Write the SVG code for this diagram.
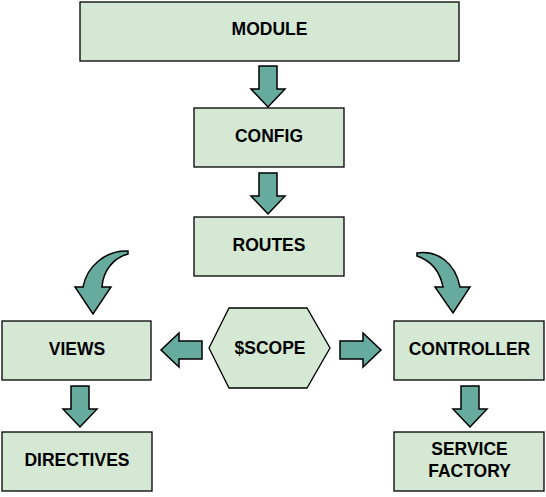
<svg xmlns="http://www.w3.org/2000/svg" width="546" height="497" viewBox="0 0 546 497">
<style>
.box{fill:#d5e8d4;stroke:#000;stroke-width:1.3}
.arr{fill:#67ab9f;stroke:#000;stroke-width:1.5;stroke-linejoin:miter}
.lbl{font-family:"Liberation Sans",Arial,sans-serif;font-weight:bold;font-size:17.5px;fill:#000;text-anchor:middle}
</style>
<rect width="546" height="497" fill="#fff"/>
<g id="connectors">
<path class="arr" d="M259,66 H277 V89 H285 L268,107 L251,89 H259 Z"/>
<path class="arr" d="M259,173 H277 V196 H285 L268,214 L251,196 H259 Z"/>
<path class="arr" d="M71,386 H89 V409 H97 L80,427 L63,409 H71 Z"/>
<path class="arr" d="M461,386 H479 V409 H487 L470,427 L453,409 H461 Z"/>
<path class="arr" d="M202,341 V359 H179 V367 L161,350 L179,333 V341 Z"/>
<path class="arr" d="M340,341 V359 H363 V367 L381,350 L363,333 V341 Z"/>
<path class="arr" d="M128,251 C106,250 87,266 83,287 L75,287 L93,314 L111,287 L102,287 C103,271 113,258 128,254 Z"/>
<path class="arr" d="M417,253 C437,250 455,262 460,287 L470,287 L453,313 L435,287 L443,287 C440,272 432,261 417,256 Z"/>
</g>
<g id="module"><rect class="box" x="80" y="2" width="379" height="59"/><text class="lbl" x="269.5" y="35">MODULE</text></g>
<g id="config"><rect class="box" x="194" y="108" width="150" height="59"/><text class="lbl" x="269" y="142">CONFIG</text></g>
<g id="routes"><rect class="box" x="194" y="217" width="150" height="59"/><text class="lbl" x="269" y="251">ROUTES</text></g>
<g id="views"><rect class="box" x="2" y="321" width="149" height="59"/><text class="lbl" x="77" y="355">VIEWS</text></g>
<g id="scope"><polygon class="box" points="209,348 229,308 307,308 330,348 307,388 229,388"/><text class="lbl" x="270" y="354">$SCOPE</text></g>
<g id="controller"><rect class="box" x="394" y="321" width="150" height="59"/><text class="lbl" x="469.5" y="355">CONTROLLER</text></g>
<g id="directives"><rect class="box" x="2" y="432" width="150" height="59"/><text class="lbl" x="77" y="466">DIRECTIVES</text></g>
<g id="service-factory"><rect class="box" x="394" y="432" width="150" height="59"/><text class="lbl" x="469.5" y="455">SERVICE</text><text class="lbl" x="469.5" y="477">FACTORY</text></g>
</svg>
